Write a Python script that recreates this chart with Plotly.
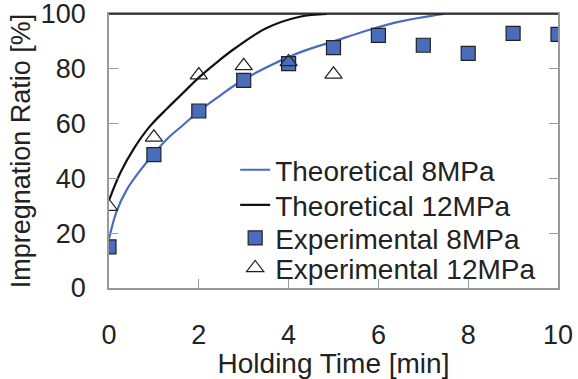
import plotly.graph_objects as go

# Theoretical curves
t_8 = [0, 0.17, 0.4, 0.7, 1.0, 1.3, 1.65, 2.0, 2.5, 2.8, 3.5, 4.25, 5.0, 5.75, 6.5, 7.45]
y_8 = [18, 28, 36, 43, 49, 54.5, 59.5, 64.5, 70.5, 74, 80.5, 86, 90, 94, 97.3, 100]
t_12 = [0, 0.25, 0.55, 0.9, 1.3, 1.65, 2.0, 2.45, 2.8, 3.5, 4.25, 4.85]
y_12 = [32, 42, 50.8, 58.8, 65.6, 71.2, 76.8, 83, 87.4, 94.8, 99, 100]

# Experimental data
exp8_t = [0, 1, 2, 3, 4, 5, 6, 7, 8, 9, 10]
exp8_y = [15.0, 48.7, 64.6, 75.8, 81.9, 87.7, 92.2, 88.6, 85.6, 92.9, 92.6]
exp12_t = [0, 1, 2, 3, 4, 5]
exp12_y = [29.7, 55.0, 77.7, 81.1, 82.5, 78.0]

x_ticks = [0, 2, 4, 6, 8, 10]
y_ticks = [0, 20, 40, 60, 80, 100]

BLUE = "#4a6cbd"
FONT = "Liberation Sans, Arial, sans-serif"

fig = go.Figure()
fig.add_trace(go.Scatter(x=t_8, y=y_8, mode="lines", name="Theoretical 8MPa", legend="legend",
                         line=dict(color=BLUE, width=2.2, shape="spline")))
fig.add_trace(go.Scatter(x=t_12, y=y_12, mode="lines", name="Theoretical 12MPa", legend="legend2",
                         line=dict(color="#111111", width=2.2, shape="spline")))
fig.add_trace(go.Scatter(x=exp8_t, y=exp8_y, mode="markers", name="Experimental 8MPa", legend="legend3",
                         marker=dict(symbol="square", size=14, color=BLUE,
                                     line=dict(color="#222222", width=1.2))))
fig.add_trace(go.Scatter(x=exp12_t, y=exp12_y, mode="markers", name="Experimental 12MPa", legend="legend4",
                         marker=dict(symbol="triangle-up-open", size=15, color="#222222",
                                     line=dict(width=1.2))))

def leg(yc):
    return dict(x=0.281, y=yc, xanchor="left", yanchor="middle",
                bgcolor="rgba(0,0,0,0)", font=dict(size=28), itemwidth=30)

fig.update_layout(
    width=578, height=379,
    margin=dict(l=109, r=20, t=14, b=91, autoexpand=False),
    paper_bgcolor="white", plot_bgcolor="white",
    font=dict(family=FONT, size=27, color="#222222"),
    showlegend=True,
    legend=leg(0.4305), legend2=leg(0.3025), legend3=leg(0.1818), legend4=leg(0.0721),
    xaxis=dict(range=[0, 10], tickvals=x_ticks, ticks="inside", ticklen=9,
               tickcolor="#999999", showline=True, linecolor="#999999", linewidth=1.5,
               mirror=True, showgrid=False, zeroline=False, ticklabelstandoff=22,
               automargin=False, ticklabeloverflow="allow",
               title=dict(text="Holding Time [min]", standoff=1, font=dict(size=28))),
    yaxis=dict(range=[0, 100], tickvals=y_ticks, ticks="inside", ticklen=9,
               tickcolor="#999999", showline=True, linecolor="#999999", linewidth=1.5,
               mirror="ticks", showgrid=False, zeroline=False, ticklabelstandoff=16,
               automargin=False, ticklabeloverflow="allow",
               title=dict(text="Impregnation Ratio [%]", standoff=2, font=dict(size=27))),
    shapes=[dict(type="line", xref="paper", yref="paper", x0=0, x1=1, y0=1, y1=1,
                 line=dict(color="#111111", width=1.5))],
)

fig.write_html("out.html")
